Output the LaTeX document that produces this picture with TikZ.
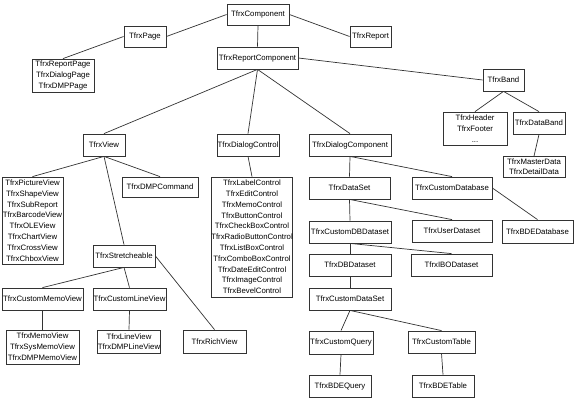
\documentclass[tikz,border=0pt]{standalone}
\usepackage{fontspec}
\setmainfont{Liberation Sans}
\begin{document}
\begin{tikzpicture}[x=1pt,y=-1pt,
  box/.style={draw=black!80, line width=0.8pt, rectangle, inner sep=0pt, align=center,
    font=\fontsize{7.8}{10.8}\selectfont, text=black, fill=white},
  link/.style={draw=black!80, line width=0.7pt}]
\useasboundingbox[fill=white] (0,0) rectangle (577,401);
% links first (drawn under boxes)
\begin{scope}[on background layer/.style={}]
\end{scope}
% nodes
\node[box, minimum width=62pt, minimum height=21pt] (comp) at (258,14.5) {TfrxComponent};
\node[box, minimum width=42pt, minimum height=21pt] (page) at (145,36.5) {TfrxPage};
\node[box, minimum width=62pt, minimum height=33pt] (pages) at (63,75.5) {TfrxReportPage\\TfrxDialogPage\\TfrxDMPPage};
\node[box, minimum width=41pt, minimum height=21pt] (report) at (370.5,36.5) {TfrxReport};
\node[box, minimum width=81pt, minimum height=22pt] (rc) at (257.5,58) {TfrxReportComponent};
\node[box, minimum width=41pt, minimum height=22pt] (band) at (503.5,80) {TfrxBand};
\node[box, minimum width=64pt, minimum height=33pt] (hdr) at (475,128.5) {TfrxHeader\\TfrxFooter\\...};
\node[box, minimum width=52pt, minimum height=22pt] (databand) at (539,123) {TfrxDataBand};
\node[box, minimum width=62pt, minimum height=21pt, font=\fontsize{7.8}{10}\selectfont] (master) at (534,167) {TfrxMasterData\\TfrxDetailData};
\node[box, minimum width=42pt, minimum height=22pt] (view) at (104,145) {TfrxView};
\node[box, minimum width=62pt, minimum height=22pt] (dlgctl) at (248,145) {TfrxDialogControl};
\node[box, minimum width=82pt, minimum height=22pt] (dlgcomp) at (350,145) {TfrxDialogComponent};
\node[box, minimum width=61pt, minimum height=87pt] (views) at (32.5,220.5) {TfrxPictureView\\TfrxShapeView\\TfrxSubReport\\TfrxBarcodeView\\TfrxOLEView\\TfrxChartView\\TfrxCrossView\\TfrxChboxView};
\node[box, minimum width=76pt, minimum height=20pt] (dmpcmd) at (160,187) {TfrxDMPCommand};
\node[box, minimum width=62pt, minimum height=22pt] (stretch) at (124,256) {TfrxStretcheable};
\node[box, minimum width=74pt, minimum height=120pt] (ctrls) at (252,237) {TfrxLabelControl\\TfrxEditControl\\TfrxMemoControl\\TfrxButtonControl\\TfrxCheckBoxControl\\TfrxRadioButtonControl\\TfrxListBoxControl\\TfrxComboBoxControl\\TfrxDateEditControl\\TfrxImageControl\\TfrxBevelControl};
\node[box, minimum width=81pt, minimum height=22pt] (ds) at (349.5,188) {TfrxDataSet};
\node[box, minimum width=80pt, minimum height=22pt] (cdb) at (452,188) {TfrxCustomDatabase};
\node[box, minimum width=82pt, minimum height=22pt] (cdbds) at (350,232) {TfrxCustomDBDataset};
\node[box, minimum width=80pt, minimum height=22pt] (uds) at (452,231) {TfrxUserDataset};
\node[box, minimum width=71pt, minimum height=23pt] (bdedb) at (537.5,231.5) {TfrxBDEDatabase};
\node[box, minimum width=82pt, minimum height=22pt] (dbds) at (350,265) {TfrxDBDataset};
\node[box, minimum width=81pt, minimum height=22pt] (ibo) at (451.5,265) {TfrxIBODataset};
\node[box, minimum width=82pt, minimum height=22pt] (cds) at (350,299) {TfrxCustomDataSet};
\node[box, minimum width=64pt, minimum height=23pt] (cq) at (341,342.5) {TfrxCustomQuery};
\node[box, minimum width=67pt, minimum height=22pt] (ct) at (441.5,342) {TfrxCustomTable};
\node[box, minimum width=62pt, minimum height=22pt] (bdeq) at (340,386) {TfrxBDEQuery};
\node[box, minimum width=62pt, minimum height=22pt] (bdet) at (443,386) {TfrxBDETable};
\node[box, minimum width=81pt, minimum height=22pt] (cmv) at (42.5,299) {TfrxCustomMemoView};
\node[box, minimum width=73pt, minimum height=22pt] (clv) at (129.5,299) {TfrxCustomLineView};
\node[box, minimum width=73pt, minimum height=34pt] (memo) at (42.5,347) {TfrxMemoView\\TfrxSysMemoView\\TfrxDMPMemoView};
\node[box, minimum width=62pt, minimum height=23pt, font=\fontsize{7.8}{10}\selectfont] (lines) at (129,341.5) {TfrxLineView\\TfrxDMPLineView};
\node[box, minimum width=63pt, minimum height=23pt] (rich) at (214.5,341.5) {TfrxRichView};
% connectors
\draw[link] (comp.west) -- (page.east);
\draw[link] (page.west) -- (pages.north);
\draw[link] (comp.east) -- (report.west);
\draw[link] (comp.south) -- (rc.north);
\draw[link] (rc.east) -- (band.west);
\draw[link] (rc.south) -- (view.north);
\draw[link] (rc.south) -- (dlgctl.north);
\draw[link] (rc.south) -- (dlgcomp.north);
\draw[link] (band.south) -- (hdr.north);
\draw[link] (band.south) -- (databand.north);
\draw[link] (databand.south) -- (master.north);
\draw[link] (view.south) -- (views.north);
\draw[link] (view.south) -- (dmpcmd.north);
\draw[link] (view.south) -- (stretch.north);
\draw[link] (stretch.south) -- (cmv.north);
\draw[link] (stretch.south) -- (clv.north);
\draw[link] (stretch.east) -- (rich.north);
\draw[link] (cmv.south) -- (memo.north);
\draw[link] (clv.south) -- (lines.north);
\draw[link] (dlgctl.south) -- (ctrls.north);
\draw[link] (dlgcomp.south) -- (ds.north);
\draw[link] (dlgcomp.south) -- (cdb.north);
\draw[link] (cdb.east) -- (bdedb.north);
\draw[link] (ds.south) -- (cdbds.north);
\draw[link] (ds.south) -- (uds.north);
\draw[link] (cdbds.south) -- (dbds.north);
\draw[link] (cdbds.south) -- (ibo.north);
\draw[link] (dbds.south) -- (cds.north);
\draw[link] (cds.south) -- (cq.north);
\draw[link] (cds.south) -- (ct.north);
\draw[link] (cq.south) -- (bdeq.north);
\draw[link] (ct.south) -- (bdet.north);
\end{tikzpicture}
\end{document}
